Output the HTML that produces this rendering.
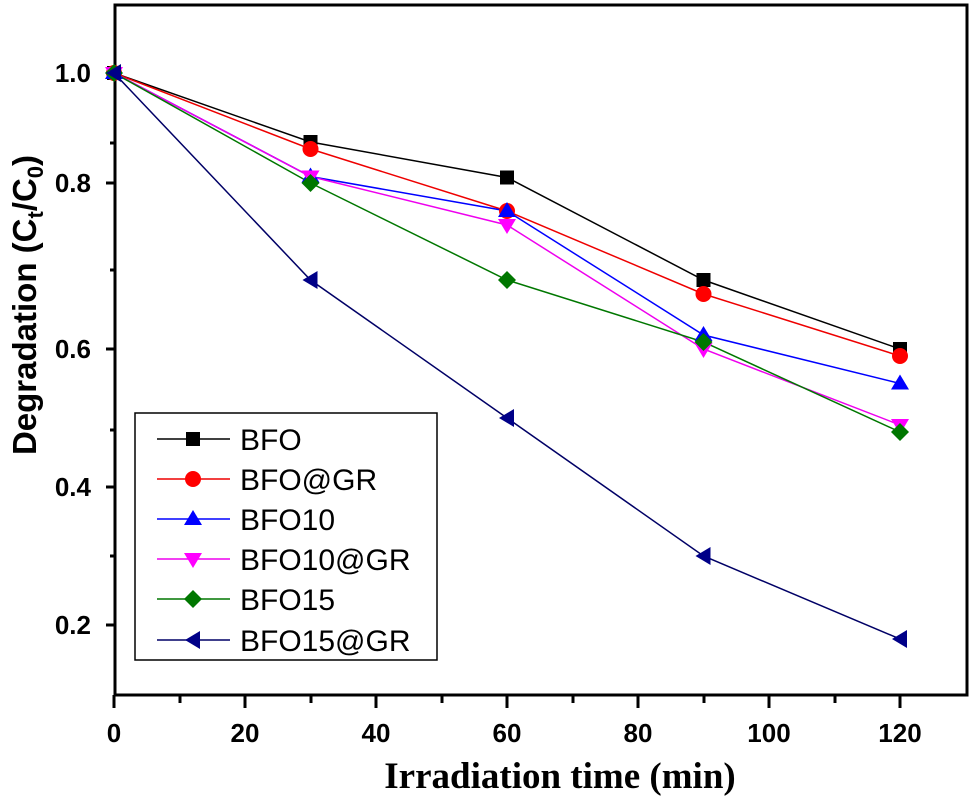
<!DOCTYPE html>
<html><head><style>body{margin:0;background:#fff}svg{display:block}</style></head><body>
<svg width="973" height="803" xmlns="http://www.w3.org/2000/svg" font-family="Liberation Sans, sans-serif">
<rect x="0" y="0" width="973" height="803" fill="#fff"/>
<rect x="115" y="5" width="852" height="690" fill="none" stroke="#000" stroke-width="3"/>
<g stroke="#000" stroke-width="3">
<line x1="106" y1="73" x2="115" y2="73"/><line x1="106" y1="183" x2="115" y2="183"/><line x1="106" y1="349" x2="115" y2="349"/><line x1="106" y1="487" x2="115" y2="487"/><line x1="106" y1="625" x2="115" y2="625"/>
<line x1="110" y1="143" x2="115" y2="143"/><line x1="110" y1="270" x2="115" y2="270"/><line x1="110" y1="430" x2="115" y2="430"/><line x1="110" y1="556" x2="115" y2="556"/>
<line x1="114" y1="695" x2="114" y2="708"/><line x1="245" y1="695" x2="245" y2="708"/><line x1="376" y1="695" x2="376" y2="708"/><line x1="507" y1="695" x2="507" y2="708"/><line x1="638" y1="695" x2="638" y2="708"/><line x1="769" y1="695" x2="769" y2="708"/><line x1="900" y1="695" x2="900" y2="708"/>
<line x1="180" y1="695" x2="180" y2="703"/><line x1="311" y1="695" x2="311" y2="703"/><line x1="442" y1="695" x2="442" y2="703"/><line x1="573" y1="695" x2="573" y2="703"/><line x1="704" y1="695" x2="704" y2="703"/><line x1="835" y1="695" x2="835" y2="703"/>
</g>
<g font-size="26" font-weight="bold" text-anchor="end">
<text x="91" y="82">1.0</text><text x="91" y="192">0.8</text><text x="91" y="358">0.6</text><text x="91" y="496">0.4</text><text x="91" y="634">0.2</text>
</g>
<g font-size="26" font-weight="bold" text-anchor="middle">
<text x="114" y="742">0</text><text x="245" y="742">20</text><text x="376" y="742">40</text><text x="507" y="742">60</text><text x="638" y="742">80</text><text x="769" y="742">100</text><text x="900" y="742">120</text>
</g>
<text x="560" y="788" font-family="Liberation Serif, serif" font-size="37" font-weight="bold" text-anchor="middle">Irradiation time (min)</text>
<text transform="translate(36,305) rotate(-90)" font-size="33" font-weight="bold" text-anchor="middle">Degradation (C<tspan font-size="22" dy="7">t</tspan><tspan dy="-7">/C</tspan><tspan font-size="22" dy="7">0</tspan><tspan dy="-7">)</tspan></text>
<g fill="none" stroke-width="1.5">
<polyline stroke="#000" points="114,73 310.5,142 507,177.5 703.5,280 900,349"/>
<polyline stroke="#e00" points="114,73 310.5,149 507,211 703.5,294 900,356"/>
<polyline stroke="#00f" points="114,73 310.5,176.5 507,211 703.5,335 900,383.5"/>
<polyline stroke="#e0e" points="114,73 310.5,176.5 507,225 703.5,349 900,425"/>
<polyline stroke="#070" points="114,73 310.5,183 507,280 703.5,342 900,432"/>
<polyline stroke="#006" points="114,73 310.5,280 507,418 703.5,556 900,639"/>
</g>
<g>
<g fill="#000"><rect x="107" y="66" width="14" height="14"/><rect x="303.5" y="135" width="14" height="14"/><rect x="500" y="170.5" width="14" height="14"/><rect x="696.5" y="273" width="14" height="14"/><rect x="893" y="342" width="14" height="14"/></g>
<g fill="#f00"><circle cx="114" cy="73" r="8"/><circle cx="310.5" cy="149" r="8"/><circle cx="507" cy="211" r="8"/><circle cx="703.5" cy="294" r="8"/><circle cx="900" cy="356" r="8"/></g>
<g fill="#00f"><path d="M114,64 l9,15 h-18z M310.5,167.5 l9,15 h-18z M507,202 l9,15 h-18z M703.5,326 l9,15 h-18z M900,374.5 l9,15 h-18z"/></g>
<g fill="#f0f"><path d="M114,82 l9,-15 h-18z M310.5,185.5 l9,-15 h-18z M507,234 l9,-15 h-18z M703.5,358 l9,-15 h-18z M900,434 l9,-15 h-18z"/></g>
<g fill="#070"><path d="M114,64 l9,9 l-9,9 l-9,-9z M310.5,174 l9,9 l-9,9 l-9,-9z M507,271 l9,9 l-9,9 l-9,-9z M703.5,333 l9,9 l-9,9 l-9,-9z M900,423 l9,9 l-9,9 l-9,-9z"/></g>
<g fill="#008"><path d="M106,73 l15,-9 v18z M302.5,280 l15,-9 v18z M499,418 l15,-9 v18z M695.5,556 l15,-9 v18z M892,639 l15,-9 v18z"/></g>
</g>
<rect x="135" y="413" width="302" height="247" fill="#fff" stroke="#000" stroke-width="1.5"/>
<g font-size="30">
<line x1="157" y1="439" x2="230" y2="439" stroke="#000" stroke-width="1.5"/><rect x="186" y="432" width="14" height="14"/><text x="240" y="450">BFO</text>
<line x1="157" y1="479" x2="230" y2="479" stroke="#e00" stroke-width="1.5"/><circle cx="193" cy="479" r="8" fill="#f00"/><text x="240" y="490">BFO@GR</text>
<line x1="157" y1="519" x2="230" y2="519" stroke="#00f" stroke-width="1.5"/><path d="M193,510 l9,15 h-18z" fill="#00f"/><text x="240" y="530">BFO10</text>
<line x1="157" y1="559" x2="230" y2="559" stroke="#e0e" stroke-width="1.5"/><path d="M193,568 l9,-15 h-18z" fill="#f0f"/><text x="240" y="570">BFO10@GR</text>
<line x1="157" y1="599" x2="230" y2="599" stroke="#070" stroke-width="1.5"/><path d="M193,590 l9,9 l-9,9 l-9,-9z" fill="#070"/><text x="240" y="610">BFO15</text>
<line x1="157" y1="640" x2="230" y2="640" stroke="#006" stroke-width="1.5"/><path d="M185,640 l15,-9 v18z" fill="#008"/><text x="240" y="651">BFO15@GR</text>
</g>
</svg>
</body></html>
